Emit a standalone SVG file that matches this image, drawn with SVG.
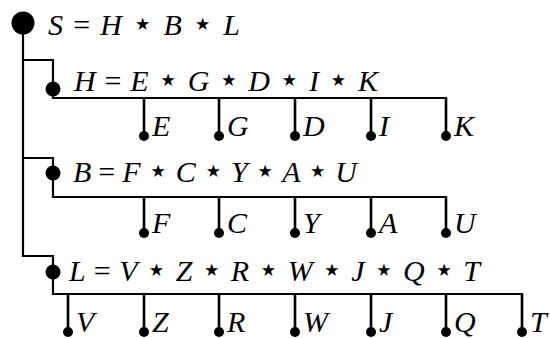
<svg xmlns="http://www.w3.org/2000/svg" width="550" height="338" viewBox="0 0 550 338">
<style>
.ln{stroke:#000;stroke-width:2.2;fill:none;stroke-linecap:square}
.ch{stroke:#000;stroke-width:2.6;fill:none}
.t{font-family:"Liberation Serif","Times New Roman",serif;font-style:italic;font-size:30px;fill:#000}
.o{font-style:normal}
.s{font-family:"DejaVu Sans",sans-serif;font-style:normal;font-size:34px}
</style>
<rect width="550" height="338" fill="#fff"/>
<g id="connectors">
<path class="ln" d="M23,23 V256 M23,60 H53 V98 M23,158 H53 V197 M23,256 H53 V294"/>
<path class="ln" d="M53,98 H446 M53,197 H446 M53,294 H522"/>
<path class="ch" d="M144,98 V136 M219,98 V136 M295,98 V136 M371,98 V136 M446,98 V136"/>
<path class="ch" d="M144,197 V233 M219,197 V233 M295,197 V233 M371,197 V233 M446,197 V233"/>
<path class="ch" d="M68,294 V332 M144,294 V332 M219,294 V332 M295,294 V332 M371,294 V332 M446,294 V332 M522,294 V332"/>
</g>
<g id="S"><circle cx="23" cy="23" r="11.5"/><text class="t" x="48" y="35" textLength="192" lengthAdjust="spacing">S <tspan class="o">=</tspan> H <tspan class="s">⋆</tspan> B <tspan class="s">⋆</tspan> L</text></g>
<g id="H"><circle cx="53" cy="89" r="7.5"/><text class="t" x="74" y="91" textLength="304" lengthAdjust="spacing">H <tspan class="o">=</tspan> E <tspan class="s">⋆</tspan> G <tspan class="s">⋆</tspan> D <tspan class="s">⋆</tspan> I <tspan class="s">⋆</tspan> K</text></g>
<g id="B"><circle cx="53" cy="173" r="7.5"/><text class="t" x="73" y="182" textLength="284" lengthAdjust="spacing">B <tspan class="o">=</tspan> F <tspan class="s">⋆</tspan> C <tspan class="s">⋆</tspan> Y <tspan class="s">⋆</tspan> A <tspan class="s">⋆</tspan> U</text></g>
<g id="L"><circle cx="53" cy="272" r="7.5"/><text class="t" x="69" y="281" textLength="411" lengthAdjust="spacing">L <tspan class="o">=</tspan> V <tspan class="s">⋆</tspan> Z <tspan class="s">⋆</tspan> R <tspan class="s">⋆</tspan> W <tspan class="s">⋆</tspan> J <tspan class="s">⋆</tspan> Q <tspan class="s">⋆</tspan> T</text></g>
<g id="E"><circle cx="144" cy="136" r="5"/><text class="t" x="152" y="136">E</text></g>
<g id="G"><circle cx="219" cy="136" r="5"/><text class="t" x="227" y="136">G</text></g>
<g id="D"><circle cx="295" cy="136" r="5"/><text class="t" x="303" y="136">D</text></g>
<g id="I"><circle cx="371" cy="136" r="5"/><text class="t" x="379" y="136">I</text></g>
<g id="K"><circle cx="446" cy="136" r="5"/><text class="t" x="454" y="136">K</text></g>
<g id="F"><circle cx="144" cy="233" r="5"/><text class="t" x="152" y="233">F</text></g>
<g id="C"><circle cx="219" cy="233" r="5"/><text class="t" x="227" y="233">C</text></g>
<g id="Y"><circle cx="295" cy="233" r="5"/><text class="t" x="303" y="233">Y</text></g>
<g id="A"><circle cx="371" cy="233" r="5"/><text class="t" x="379" y="233">A</text></g>
<g id="U"><circle cx="446" cy="233" r="5"/><text class="t" x="454" y="233">U</text></g>
<g id="V"><circle cx="68" cy="332" r="5"/><text class="t" x="76" y="332">V</text></g>
<g id="Z"><circle cx="144" cy="332" r="5"/><text class="t" x="152" y="332">Z</text></g>
<g id="R"><circle cx="219" cy="332" r="5"/><text class="t" x="227" y="332">R</text></g>
<g id="W"><circle cx="295" cy="332" r="5"/><text class="t" x="303" y="332">W</text></g>
<g id="J"><circle cx="371" cy="332" r="5"/><text class="t" x="379" y="332">J</text></g>
<g id="Q"><circle cx="446" cy="332" r="5"/><text class="t" x="454" y="332">Q</text></g>
<g id="T"><circle cx="522" cy="332" r="5"/><text class="t" x="530" y="332">T</text></g>
</svg>
